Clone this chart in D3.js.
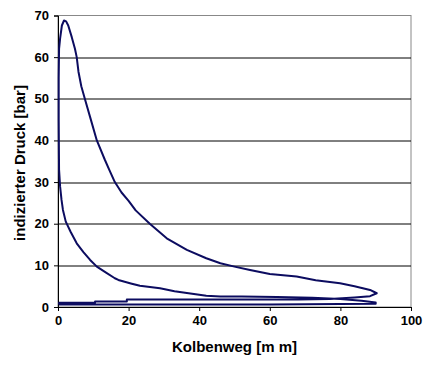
<!DOCTYPE html>
<html>
<head>
<meta charset="utf-8">
<script src="https://cdn.jsdelivr.net/npm/d3@7"></script>
<style>
  body { margin: 0; background: #fff; }
  text { font-family: "Liberation Sans", Arial, sans-serif; font-weight: bold; fill: #000; }
</style>
</head>
<body>
<div class="chart"></div>
<script>
// Kolbenweg [mm] and indizierter Druck [bar] in cycle order
var kolbenweg = [0.3, 30, 60, 80, 90,
    90, 86, 80, 72, 62, 52, 46, 42, 38, 33, 28.9, 23.2, 20.9, 17.1, 16.1, 13.5, 11, 9.1, 7.2, 5.3, 3.6, 2.2, 1.4, 1.0, 0.6, 0.3, 0.2, 0.2, 0.3, 0.6,
    1.1, 1.7, 2.3, 2.9, 3.9, 4.8, 5.3, 5.8, 6.6, 7.6, 9.1, 11, 13.3, 14.5, 16.1, 18, 20, 22, 26, 30.8, 36.5, 42, 46, 50, 54.4, 60, 67.6, 73, 79.9, 84, 88.4, 90.3,
    88.4, 84, 77, 68, 55, 40, 19.5, 19.5, 10.5, 10.5, 0.3, 0.3];
var druck = [0.6, 0.6, 0.6, 0.7, 0.8,
    1.1, 1.5, 1.9, 2.2, 2.4, 2.5, 2.5, 2.7, 3.2, 3.8, 4.5, 5.1, 5.6, 6.5, 6.9, 8.3, 9.7, 11.3, 13.2, 15.3, 18, 20.5, 23.3, 25.7, 28.9, 33, 45, 55, 62, 64.5,
    67.6, 68.8, 68.6, 67.6, 64.8, 62, 60, 56.5, 53, 50, 45.6, 40, 35.3, 33, 30, 27.5, 25.5, 23.2, 20, 16.5, 13.7, 11.7, 10.5, 9.7, 8.9, 7.9, 7.3, 6.4, 5.7, 5.0, 4.1, 3.3,
    2.6, 2.3, 1.9, 1.8, 1.8, 1.8, 1.8, 1.3, 1.3, 1.0, 1.0, 0.6];

var xTicks = [0, 20, 40, 60, 80, 100];
var yTicks = [0, 10, 20, 30, 40, 50, 60, 70];
var xTitle = "Kolbenweg [m m]";
var yTitle = "indizierter Druck [bar]";

var width = 437, height = 365;
var margin = {top: 15.5, right: 26, bottom: 58, left: 58};
var plotW = width - margin.left - margin.right;
var plotH = height - margin.top - margin.bottom;

var svg = d3.select(".chart")
    .append("svg")
    .attr("width", width)
    .attr("height", height)

var x = d3.scaleLinear().domain([0, 100]).range([0, plotW]);
var y = d3.scaleLinear().domain([0, 70]).range([plotH, 0]);

var plot = svg.append("g")
    .attr("transform", "translate(" + margin.left + "," + margin.top + ")")

// plot area border (grey top and right edge)
plot.append("rect")
    .attr("x", 0)
    .attr("y", 0)
    .attr("width", plotW)
    .attr("height", plotH)
    .attr("fill", "white")
    .attr("stroke", "#888")
    .attr("stroke-width", 1)

// black gridlines
plot.selectAll(".grid")
    .data(yTicks.filter(function(d) { return d > 0 && d < 70; }))
    .enter().append("line")
    .attr("class", "grid")
    .attr("x1", 0)
    .attr("x2", plotW)
    .attr("y1", function(d) { return Math.round(y(d)) + 0.5; })
    .attr("y2", function(d) { return Math.round(y(d)) + 0.5; })
    .attr("stroke", "#000")
    .attr("stroke-width", 1)

var xAxis = plot.append("g")
    .attr("transform", "translate(0," + plotH + ")")
    .call(d3.axisBottom(x).tickValues(xTicks).tickSize(4).tickPadding(5))
xAxis.selectAll("text").style("font-size", "13px")

var yAxis = plot.append("g")
    .call(d3.axisLeft(y).tickValues(yTicks).tickSize(4).tickPadding(5))
yAxis.selectAll("text").style("font-size", "13px")

svg.selectAll(".domain, .tick line")
    .attr("stroke", "#000")
    .attr("stroke-width", 1)

var line = d3.line()
    .x(function(d) { return x(d[0]); })
    .y(function(d) { return y(d[1]); })

plot.append("path")
    .datum(d3.zip(kolbenweg, druck))
    .attr("d", line)
    .attr("fill", "none")
    .attr("stroke", "#0c0c60")
    .attr("stroke-width", 2)
    .attr("stroke-linejoin", "round")

svg.append("text")
    .attr("x", margin.left + plotW / 2)
    .attr("y", 352)
    .attr("text-anchor", "middle")
    .style("font-size", "15px")
    .text(xTitle);

svg.append("text")
    .attr("transform", "translate(25," + 163 + ") rotate(-90)")
    .attr("text-anchor", "middle")
    .style("font-size", "15px")
    .text(yTitle);
</script>
</body>
</html>
